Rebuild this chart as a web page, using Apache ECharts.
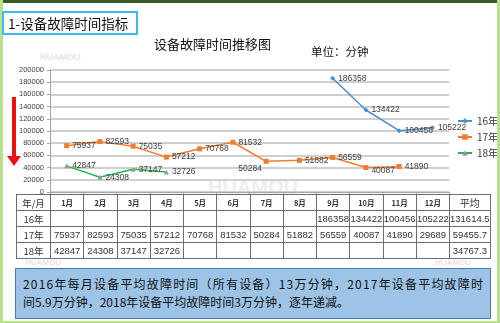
<!DOCTYPE html>
<html><head><meta charset="utf-8">
<script src="https://cdn.jsdelivr.net/npm/echarts@6/dist/echarts.min.js"></script>
<style>
html,body{margin:0;padding:0;background:#fff;}
#page{position:relative;width:500px;height:323px;overflow:hidden;background:#fff;font-family:"Noto Sans CJK SC","Noto Sans",sans-serif;}
#chart{position:absolute;left:0;top:0;width:500px;height:323px;}
.frameT{position:absolute;left:0;top:0;width:500px;height:3px;background:#3b5a23;}
.frameL{position:absolute;left:0;top:0;width:3px;height:323px;background:#b9e08e;}
.frameR{position:absolute;left:497px;top:0;width:3px;height:323px;background:#b9e08e;}
.frameB{position:absolute;left:0;top:321px;width:500px;height:2px;background:#b9e08e;}
#hdr{position:absolute;left:2px;top:11px;width:128px;height:20px;border:2px solid #3cbcec;font-size:13.5px;line-height:20px;padding-left:4px;color:#111;}
#tbl{position:absolute;left:16px;top:194px;border-collapse:collapse;table-layout:fixed;}
#tbl td{border:1px solid #6d6d6d;height:15px;padding:0;text-align:center;font-size:9.5px;color:#333;font-family:"Liberation Sans","Noto Sans CJK SC",sans-serif;white-space:nowrap;overflow:hidden;}
#tbl tr.h td{font-size:7.5px;font-weight:bold;font-family:"Noto Sans CJK SC",sans-serif;}
#tbl tr.h td.first, #tbl td.first{font-size:9.5px;font-weight:normal;font-family:"Noto Sans CJK SC",sans-serif;}
#tbl tr.h td.avg{font-size:10px;font-weight:normal;}
#note{position:absolute;left:15px;top:268px;height:51px;background:#9dc3e6;border:1px solid #4a7ab0;padding:6px 0 0 7px;box-sizing:border-box;width:476px;font-size:12px;line-height:18px;color:#111;}
#note div{white-space:nowrap;}
#note span{display:inline-block;white-space:nowrap;}
.wm{position:absolute;color:#e4e4e4;font-weight:bold;font-family:"Liberation Sans",sans-serif;}
</style></head>
<body><div id="page">
<div class="wm" style="left:40px;top:52px;font-size:9px;">HUAMOU</div>
<div class="wm" style="left:208px;top:176px;font-size:20px;color:#eeeeee;">HUAMOU</div>
<div class="wm" style="left:435px;top:258px;font-size:8px;">HUAMOU</div>
<div class="wm" style="left:25px;top:258px;font-size:8px;">HUAMOU</div>
<div id="chart"></div>
<div class="frameT"></div><div class="frameL"></div><div class="frameR"></div><div class="frameB"></div>
<div id="hdr">1-设备故障时间指标</div>
<table id="tbl"></table>
<div id="note"></div>
</div>
<script>
var months = ['1月','2月','3月','4月','5月','6月','7月','8月','9月','10月','11月','12月'];
var seriesNames = ['16年','17年','18年'];
var y16 = [null,null,null,null,null,null,null,null,186358,134422,100456,105222];
var y17 = [75937,82593,75035,57212,70768,81532,50284,51882,56559,40087,41890,null];
var y18 = [42847,24308,37147,32726,null,null,null,null,null,null,null,null];
var t16 = ['','','','','','','','','186358','134422','100456','105222'];
var t17 = ['75937','82593','75035','57212','70768','81532','50284','51882','56559','40087','41890','29689'];
var t18 = ['42847','24308','37147','32726','','','','','','','',''];
var avgs = ['131614.5','59455.7','34767.3'];
var noteLines = ['2016年每月设备平均故障时间（所有设备）13万分钟，2017年设备平均故障时', '间5.9万分钟，2018年设备平均故障时间3万分钟，逐年递减。'];

// note text: first line justified to 460px via letter-spacing
(function(){
  var n = document.getElementById('note');
  var d1 = document.createElement('div');
  var s1 = document.createElement('span'); s1.textContent = noteLines[0];
  d1.appendChild(s1); n.appendChild(d1);
  var w = s1.getBoundingClientRect().width;
  var cnt = Array.from(noteLines[0]).length;
  s1.style.letterSpacing = ((460 - w) / (cnt - 1)) + 'px';
  var d2 = document.createElement('div'); d2.textContent = noteLines[1];
  n.appendChild(d2);
})();

// table
(function(){
  var tbl = document.getElementById('tbl');
  var colg = '<colgroup><col style="width:34px">';
  for (var i=0;i<12;i++) colg += '<col style="width:33.25px">';
  colg += '<col style="width:33px"></colgroup>';
  var html = colg + '<tr class="h"><td class="first">年/月</td>';
  months.forEach(function(m){ html += '<td>'+m+'</td>'; });
  html += '<td class="avg">平均</td></tr>';
  var rows = [t16,t17,t18];
  rows.forEach(function(r,ri){
    html += '<tr><td class="first">'+seriesNames[ri]+'</td>';
    r.forEach(function(v){ html += '<td>'+v+'</td>'; });
    html += '<td>'+avgs[ri]+'</td></tr>';
  });
  tbl.innerHTML = html;
})();

var chart = echarts.init(document.getElementById('chart'), null, {renderer:'canvas'});
var lblStyle = {show:true, position:'right', distance:3, fontSize:8.5, color:'#404040', fontFamily:'Liberation Sans'};
function mk(name, data, color, mcolor, symbol, size, special){
  var d = data.map(function(v,i){
    if (special && special[i]) return {value:v, label:special[i]};
    return v;
  });
  return {name:name, type:'line', data:d, connectNulls:false, symbol:symbol, symbolSize:size,
    lineStyle:{color:color, width:1.5}, itemStyle:{color:mcolor},
    label:lblStyle, emphasis:{disabled:true}, animation:false};
}
chart.setOption({
  animation:false,
  textStyle:{fontFamily:'"Noto Sans CJK SC", sans-serif'},
  title:[
    {text:'设备故障时间推移图', left:149, top:33, textStyle:{fontSize:13, fontWeight:'normal', color:'#111'}},
    {text:'单位：分钟', left:306, top:41, textStyle:{fontSize:11.5, fontWeight:'normal', color:'#111'}}
  ],
  legend:{orient:'vertical', left:457, top:116, padding:0, itemWidth:14, itemHeight:7, itemGap:6,
    textStyle:{fontSize:10, color:'#333'}, data:seriesNames},
  grid:{left:50, right:51, top:70, bottom:131},
  xAxis:{type:'category', data:months, boundaryGap:true,
    axisLine:{lineStyle:{color:'#a6a6a6'}}, axisTick:{show:true, length:3, lineStyle:{color:'#a6a6a6'}},
    axisLabel:{show:false}},
  yAxis:{type:'value', min:0, max:200000, interval:20000,
    axisLine:{show:true, lineStyle:{color:'#a6a6a6'}}, axisTick:{show:true, length:3, lineStyle:{color:'#a6a6a6'}},
    axisLabel:{fontSize:7.5, color:'#404040', margin:6, fontFamily:'Liberation Sans', formatter:function(v){return String(v);}},
    splitLine:{lineStyle:{color:'#cfcfcf', width:2}}},
  series:[
    mk('16年', y16, '#4a8fd6', '#4a8fd6', 'diamond', 5),
    mk('17年', y17, '#ed7d31', '#ed7d31', 'rect', 5, {6:{position:'bottom', offset:[-16,-3]}, 9:{position:'right', offset:[0,3]}}),
    mk('18年', y18, '#1fb84a', '#9a9a9a', 'triangle', 5)
  ],
  graphic:[
    {type:'polygon', shape:{points:[[12,97],[16,97],[16,156],[21,156],[14,166],[7,156],[12,156]]}, style:{fill:'#ee1111'}}
  ]
});
</script>
</body></html>
